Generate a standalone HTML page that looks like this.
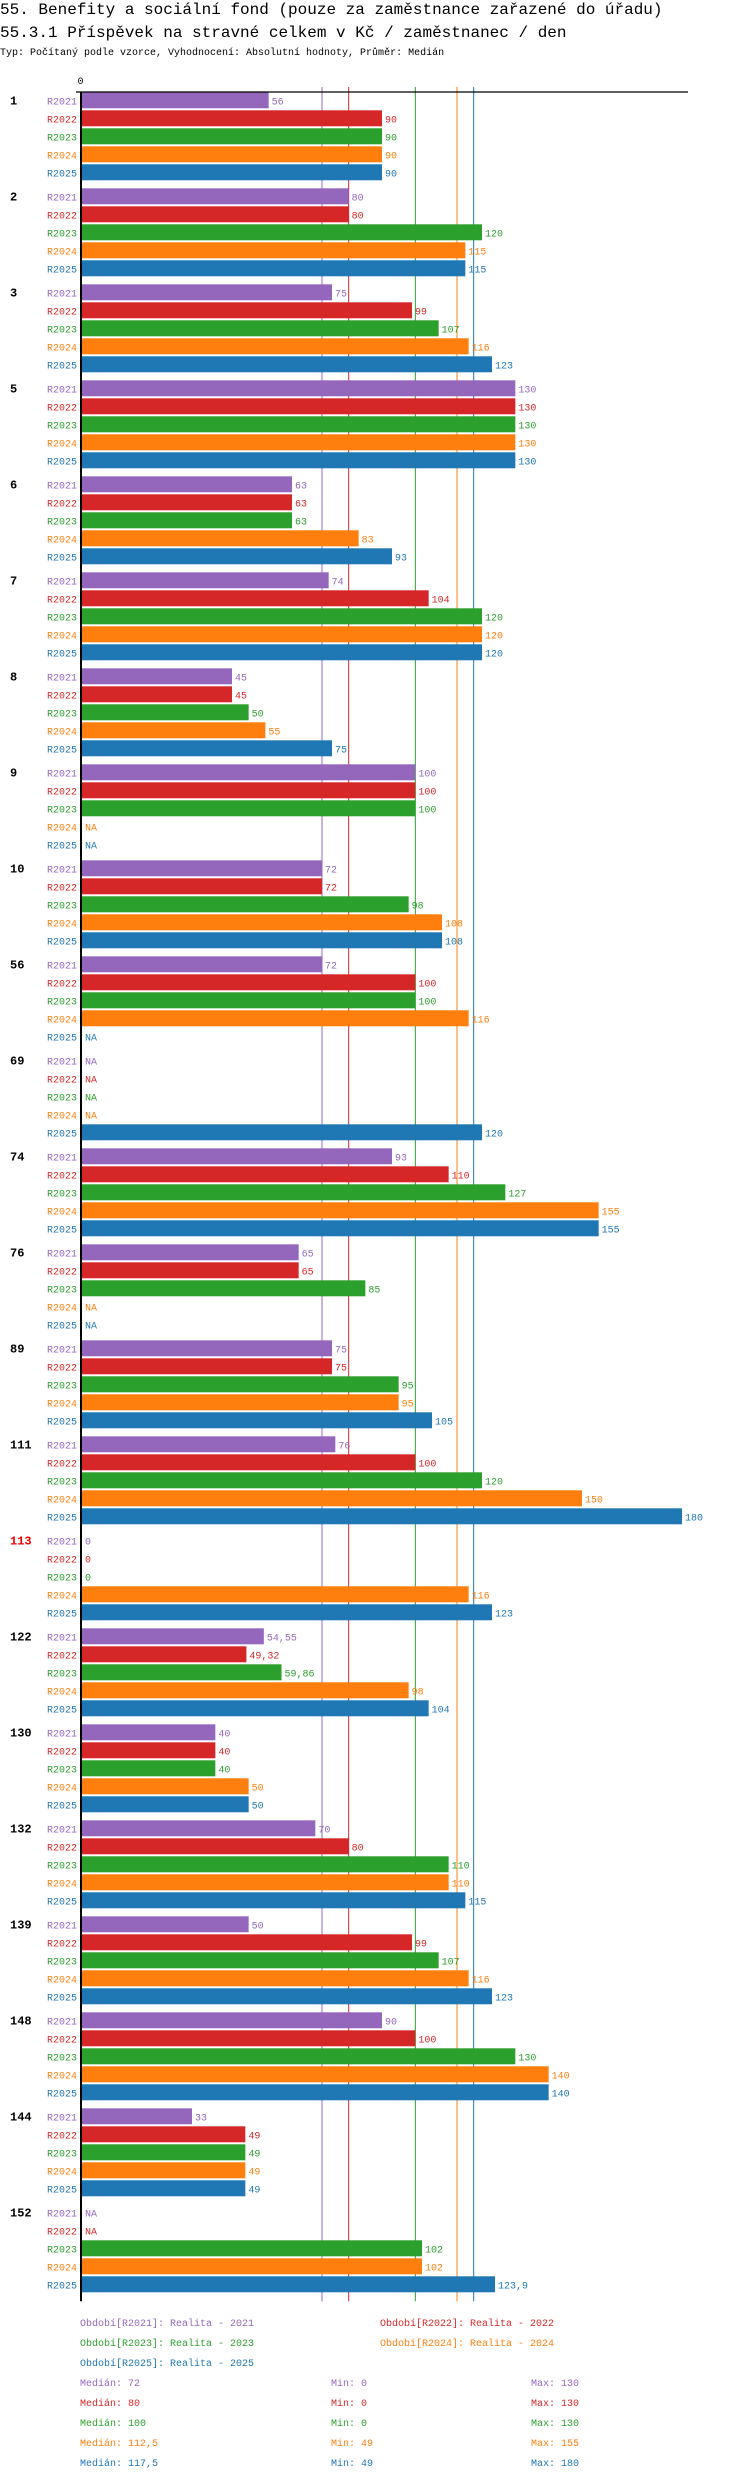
<!DOCTYPE html>
<html><head><meta charset="utf-8"><style>
html,body{margin:0;padding:0;background:#fff;width:750px;height:2480px;overflow:hidden}
svg{display:block}
text{font-family:"Liberation Mono","DejaVu Sans Mono",monospace}
</style></head><body>
<svg id="chart" width="750" height="2480" xmlns="http://www.w3.org/2000/svg">
<text x="0" y="14" font-size="16">55. Benefity a sociální fond (pouze za zaměstnance zařazené do úřadu)</text>
<text x="0" y="37" font-size="16">55.3.1 Příspěvek na stravné celkem v Kč / zaměstnanec / den</text>
<text x="0" y="55" font-size="10">Typ: Počítaný podle vzorce, Vyhodnocení: Absolutní hodnoty, Průměr: Medián</text>
<g id="plot"></g>
</svg>
<script>
const groups=["1","2","3","5","6","7","8","9","10","56","69","74","76","89","111","113","122","130","132","139","148","144","152"];
const periods=["R2021","R2022","R2023","R2024","R2025"];
const colors=["#9467bd","#d62728","#2ca02c","#ff7f0e","#1f77b4"];
const vR2021=[56,80,75,130,63,74,45,100,72,72,null,93,65,75,76,0,54.55,40,70,50,90,33,null];
const vR2022=[90,80,99,130,63,104,45,100,72,100,null,110,65,75,100,0,49.32,40,80,99,100,49,null];
const vR2023=[90,120,107,130,63,120,50,100,98,100,null,127,85,95,120,0,59.86,40,110,107,130,49,102];
const vR2024=[90,115,116,130,83,120,55,null,108,116,null,155,null,95,150,116,98,50,110,116,140,49,102];
const vR2025=[90,115,123,130,93,120,75,null,108,null,120,155,null,105,180,123,104,50,115,123,140,49,123.9];
const medians=[72,80,100,112.5,117.5];
const mins=[0,0,0,49,49];
const maxs=[130,130,130,155,180];
const redGroups=["113"];
const series=[vR2021,vR2022,vR2023,vR2024,vR2025];
const NS="http://www.w3.org/2000/svg";
const X0=82, SC=10/3, TOP=92.3, GSTEP=96, BSTEP=18, BH=16;
const xs=v=>X0+v*SC;
const ys=(g,i)=>TOP+g*GSTEP+i*BSTEP;
const plot=document.getElementById('plot');
function mk(tag,attrs,txt){const e=document.createElementNS(NS,tag);for(const k in attrs)e.setAttribute(k,attrs[k]);if(txt!==undefined)e.textContent=txt;plot.appendChild(e);return e;}
const fmt=v=>String(v).replace('.',',');
const bottom=ys(groups.length-1,4)+BH+9;
// median lines
medians.forEach((m,i)=>{const l=mk('line',{x1:xs(m),x2:xs(m),y1:87,y2:bottom,stroke:colors[i],'stroke-width':1});

});
// bars
groups.forEach((g,gi)=>{
 const gl=mk('text',{x:10,y:ys(gi,0)+12,'font-size':12,'font-weight':'bold',fill:redGroups.includes(g)?'#e00':'#000'},g);
 
 
 series.forEach((s,i)=>{
  const y=ys(gi,i), v=s[gi];
  const pl=mk('text',{x:77,y:y+12,'font-size':10,'text-anchor':'end',fill:colors[i]},periods[i]);
  
  
  if(v===null){
   const na=mk('text',{x:85,y:y+12,'font-size':10,fill:colors[i]},'NA');
   
   
   return;}
  if(v>0){const r=mk('rect',{x:X0,y:y,width:xs(v)-X0,height:BH,fill:colors[i]});
   
   }
  const vl=mk('text',{x:(v>0?xs(v)+3:85),y:y+12,'font-size':10,fill:colors[i]},fmt(v));
  
  
 });
});
// axes
const ax=mk('line',{x1:76,x2:688,y1:92,y2:92,stroke:'#000','stroke-width':1.3});


const ay=mk('line',{x1:81,x2:81,y1:92,y2:bottom,stroke:'#000','stroke-width':2});


const z=mk('text',{x:80.5,y:84,'font-size':10,'text-anchor':'middle'},'0');


// legend
const legPos=[[80,2326],[380,2326],[80,2346],[380,2346],[80,2366]];
periods.forEach((p,i)=>{
 const t=mk('text',{x:legPos[i][0],y:legPos[i][1],'font-size':10,fill:colors[i]},'Období['+p+']: Realita - '+p.slice(1));
 
 
 const yy=2386+i*20;
 const a=mk('text',{x:80,y:yy,'font-size':10,fill:colors[i]},'Medián: '+fmt(medians[i]));
 
 
 const b=mk('text',{x:331,y:yy,'font-size':10,fill:colors[i]},'Min: '+fmt(mins[i]));
 
 
 const c=mk('text',{x:531,y:yy,'font-size':10,fill:colors[i]},'Max: '+fmt(maxs[i]));
 
 
});
</script>
</body></html>
